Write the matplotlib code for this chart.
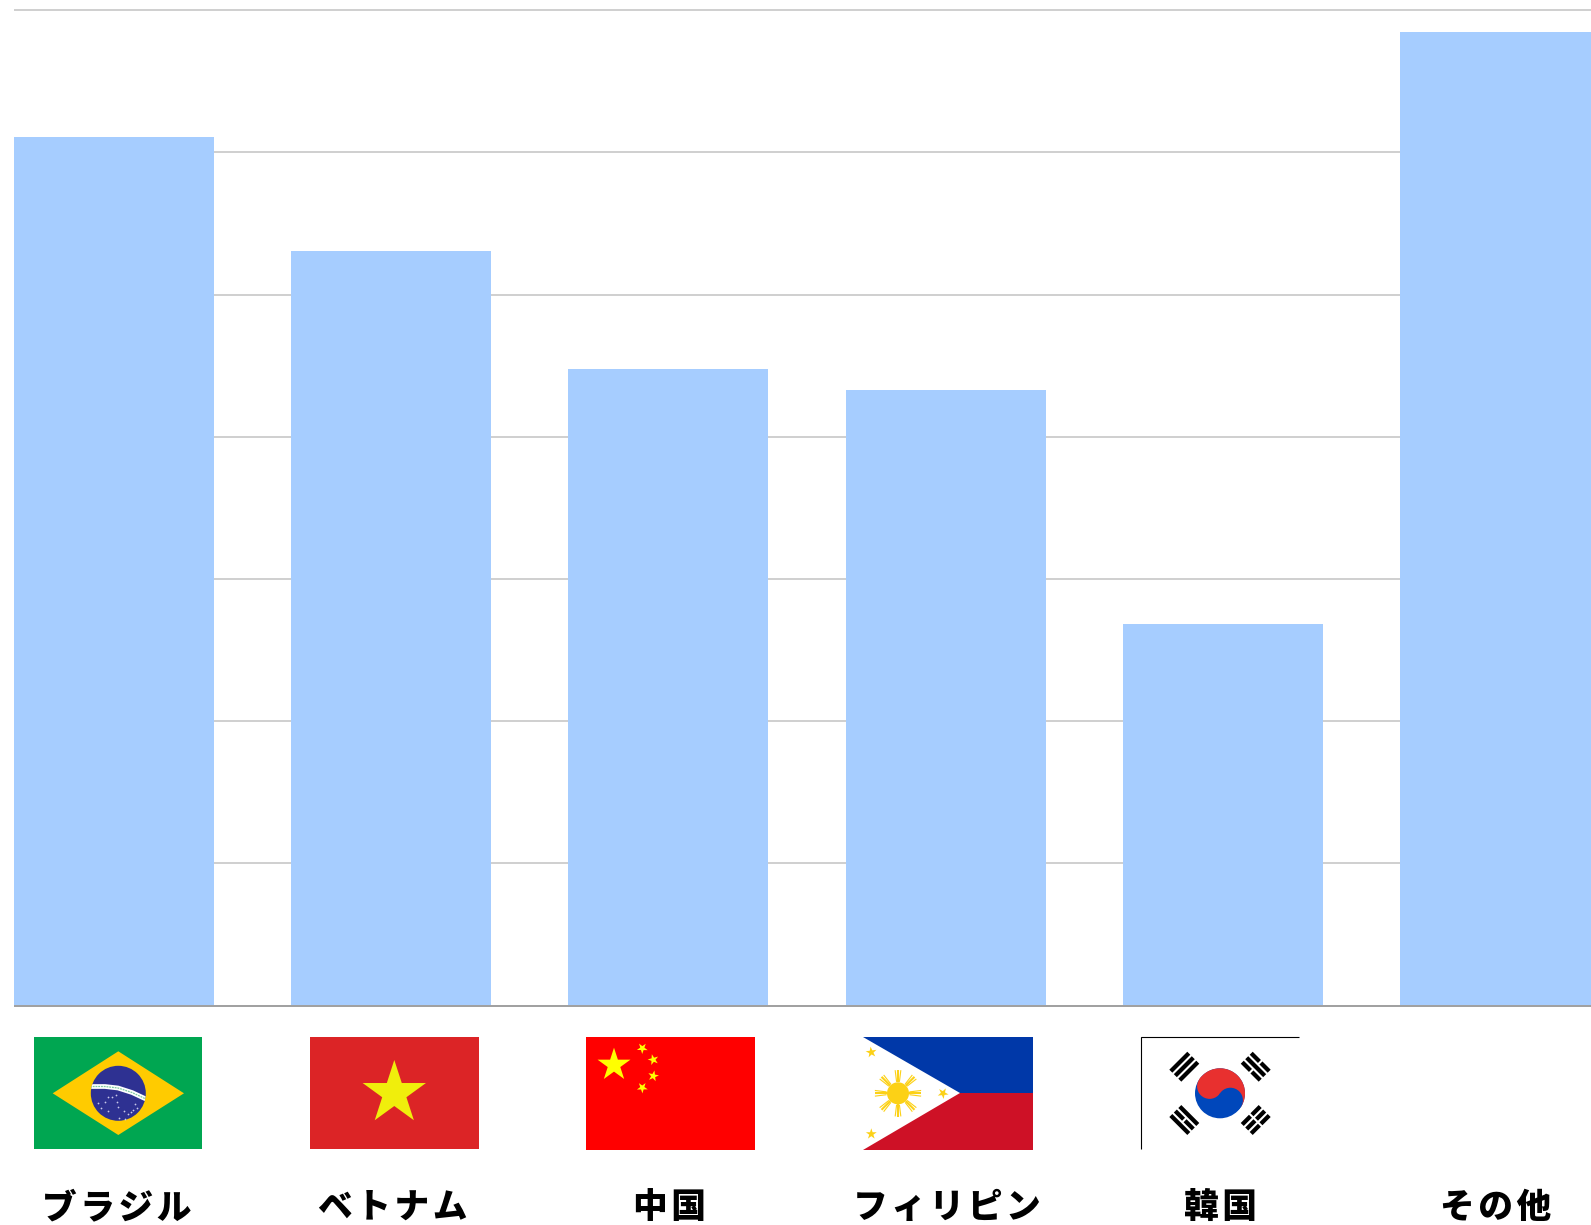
import numpy as np
import matplotlib
matplotlib.use('Agg')
import matplotlib.pyplot as plt
from matplotlib.patches import Polygon, Circle, Rectangle

plt.rcParams['font.family'] = ['Noto Sans CJK JP', 'DejaVu Sans']

categories = ['ブラジル', 'ベトナム', '中国', 'フィリピン', '韓国', 'その他']
values = [6.107, 5.305, 4.477, 4.327, 2.685, 6.845]
y_ticks = [0, 1, 2, 3, 4, 5, 6, 7]

W, H = 1591, 1225
BAR_BLUE = '#a6cdff'

# label centres in pixels, they sit a bit off the bar centres
label_x = [116.5, 393, 669.5, 947, 1220.5, 1496]
label_y = 1207.5


def star(ax, cx, cy, r, color, rot=0.0):
    t = np.radians(-90 + rot + np.arange(10) * 36)
    rad = np.where(np.arange(10) % 2 == 0, r, r * 0.382)
    pts = np.column_stack([cx + rad * np.cos(t), cy + rad * np.sin(t)])
    ax.add_patch(Polygon(pts, closed=True, fc=color, ec='none'))


def brazil(ax):
    ax.add_patch(Rectangle((34, 1037), 168, 112, fc='#00a651', ec='none'))
    ax.add_patch(Polygon([(52.7, 1093.3), (118.3, 1051.3), (184, 1093.3), (118.3, 1135)],
                         fc='#ffcb00', ec='none'))
    disc = Circle((118.3, 1093.3), 27.5, fc='#2e3192', ec='none')
    ax.add_patch(disc)
    bx = [90, 105, 118, 132, 147]
    by = [1086.5, 1086.5, 1088, 1092.5, 1099.5]
    band, = ax.plot(bx, by, color='white', lw=3.4, solid_capstyle='butt')
    band.set_clip_path(disc)
    words, = ax.plot(bx, by, color='#7fc9a0', lw=0.9, ls=(0, (1.5, 0.7)))
    words.set_clip_path(disc)
    dx = [98, 101, 105, 108, 112, 117, 118, 119, 124, 125, 128, 131, 133, 135, 137, 108, 116]
    dy = [1103, 1108, 1102, 1111, 1097, 1102, 1107, 1118, 1111, 1119, 1114, 1112, 1110, 1104, 1108, 1097, 1095]
    ax.scatter(dx, dy, s=1.6, c='#c8c8ea', linewidths=0)


def vietnam(ax):
    ax.add_patch(Rectangle((310.4, 1037.3), 168.2, 112.1, fc='#dc2426', ec='none'))
    star(ax, 394.3, 1093.3, 33.3, '#f0ee0c')


def china(ax):
    ax.add_patch(Rectangle((586, 1037), 169, 113, fc='#ff0000', ec='none'))
    star(ax, 614, 1065, 17.3, '#ffff00')
    for sx, sy, rot in [(642.3, 1048.3, -35), (653.3, 1059.7, -15),
                        (653.3, 1076, 12), (642.3, 1087.7, 35)]:
        star(ax, sx, sy, 5.7, '#ffff00', rot)


def philippines(ax):
    ax.add_patch(Polygon([(863.3, 1037.3), (1033, 1037.3), (1033, 1093.3), (960, 1093.3)],
                         fc='#0038a8', ec='none'))
    ax.add_patch(Polygon([(960, 1093.3), (1033, 1093.3), (1033, 1149.5), (863.3, 1149.5)],
                         fc='#ce1126', ec='none'))
    sun = '#fcd116'
    cx, cy = 898, 1093.3
    ax.add_patch(Circle((cx, cy), 11, fc=sun, ec='none'))
    for k in range(8):
        for off, lw, start in [(-7, 0.8, 11.5), (0, 1.5, 11), (7, 0.8, 11.5)]:
            t = np.radians(k * 45 + off)
            ax.plot([cx + start * np.cos(t), cx + 23.3 * np.cos(t)],
                    [cy + start * np.sin(t), cy + 23.3 * np.sin(t)],
                    color=sun, lw=lw, solid_capstyle='butt')
    star(ax, 871.3, 1052.3, 5.7, sun, -8)
    star(ax, 871.3, 1134, 5.7, sun)
    star(ax, 943, 1093.3, 5.7, sun, 30)


def trigram(ax, cx, cy, angle, pattern):
    # pattern: one flag per bar, True means the bar is broken in two
    length, bw, gap = 25.4, 4.25, 2.1
    u = np.array([np.cos(angle), np.sin(angle)])
    v = np.array([-u[1], u[0]])
    for i, broken in enumerate(pattern):
        mid = np.array([cx, cy]) + v * (i - 1) * (bw + gap)
        spans = [(-length / 2, -gap / 2), (gap / 2, length / 2)] if broken else [(-length / 2, length / 2)]
        for a, b in spans:
            pts = [mid + u * a - v * bw / 2, mid + u * b - v * bw / 2,
                   mid + u * b + v * bw / 2, mid + u * a + v * bw / 2]
            ax.add_patch(Polygon(pts, fc='black', ec='none'))


def korea(ax):
    ax.plot([1141, 1141, 1299], [1149, 1037, 1037], color='black', lw=0.8,
            solid_joinstyle='miter', solid_capstyle='butt')
    cx, cy, r = 1220, 1093.3, 25
    a = np.arctan2(2, 3)
    red, blue = '#e8302f', '#0047bb'
    ax.add_patch(Circle((cx, cy), r, fc=blue, ec='none'))
    t = np.linspace(a + np.pi, a + 2 * np.pi, 80)
    ax.add_patch(Polygon(np.column_stack([cx + r * np.cos(t), cy + r * np.sin(t)]), fc=red, ec='none'))
    ax.add_patch(Circle((cx - r / 2 * np.cos(a), cy - r / 2 * np.sin(a)), r / 2, fc=red, ec='none'))
    ax.add_patch(Circle((cx + r / 2 * np.cos(a), cy + r / 2 * np.sin(a)), r / 2, fc=blue, ec='none'))
    d = np.pi / 4
    trigram(ax, 1184.3, 1066.7, -d, [False, False, False])
    trigram(ax, 1255.7, 1066.7, d, [True, False, True])
    trigram(ax, 1184.3, 1120, d, [False, True, False])
    trigram(ax, 1255.7, 1120, -d, [True, True, True])


fig = plt.figure(figsize=(W / 100, H / 100), dpi=100, facecolor='white')

# the last bar runs off the right edge of the picture
left, right, top, bottom = 14, W, 10.1, 1005.6
ax = fig.add_axes([left / W, 1 - bottom / H, (right - left) / W, (bottom - top) / H])
step = 277.2
centre0 = 114
ax.set_xlim((left - centre0) / step, (right - centre0) / step)
ax.set_ylim(0, 7)
ax.bar(range(len(values)), values, width=200 / step, color=BAR_BLUE, zorder=3)
ax.set_yticks(y_ticks)
ax.set_xticks([])
ax.tick_params(left=False, labelleft=False)
ax.grid(axis='y', color='#cbcbcb', lw=1.3, zorder=0)
for gl in ax.get_ygridlines():
    gl.set_clip_on(False)
    gl.set_solid_capstyle('butt')
for side in ['top', 'left', 'right']:
    ax.spines[side].set_visible(False)
ax.spines['bottom'].set_color('#a0a0a0')
ax.spines['bottom'].set_linewidth(1.4)
ax.spines['bottom'].set_capstyle('butt')
ax.spines['bottom'].set_zorder(4)

# flags and labels live on an overlay in picture pixels
ov = fig.add_axes([0, 0, 1, 1])
ov.set_xlim(0, W)
ov.set_ylim(H, 0)
ov.axis('off')
brazil(ov)
vietnam(ov)
china(ov)
philippines(ov)
korea(ov)
for name, x in zip(categories, label_x):
    # hair spaces stand in for the letter spacing of the original
    ov.text(x, label_y, '\u200a'.join(name), fontsize=25, fontweight='black', color='black',
            ha='center', va='center')

fig.savefig('out.png', dpi=100)
